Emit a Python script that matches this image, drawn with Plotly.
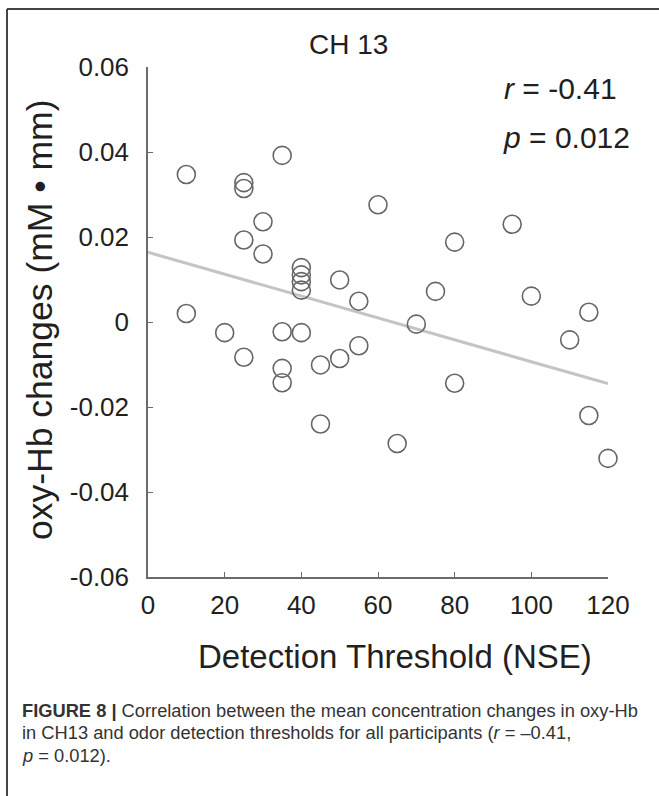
import plotly.graph_objects as go

# ---- data ----
threshold = [10, 10, 20, 25, 25, 25, 25, 30, 30, 35, 35, 35, 35,
             40, 40, 40, 40, 40, 45, 45, 50, 50, 55, 55, 60, 65, 70,
             75, 80, 80, 95, 100, 110, 115, 115, 120]
oxy_hb = [0.0347, 0.0020, -0.0025, 0.0328, 0.0314, 0.0193, -0.0083, 0.0236, 0.0160,
          0.0392, -0.0023, -0.0109, -0.0143,
          0.0128, 0.0111, 0.0095, 0.0075, -0.0025, -0.0101, -0.0240, 0.0099, -0.0086,
          0.0049, -0.0056, 0.0276, -0.0286, -0.0005,
          0.0072, 0.0188, -0.0144, 0.0230, 0.0061, -0.0042, 0.0023, -0.0220, -0.0321]
fit_x = [0, 120]
fit_y = [0.0164, -0.0145]
x_ticks = [0, 20, 40, 60, 80, 100, 120]
y_ticks = [-0.06, -0.04, -0.02, 0, 0.02, 0.04, 0.06]
y_tick_labels = ["-0.06", "-0.04", "-0.02", "0", "0.02", "0.04", "0.06"]

W, H = 659, 796
FONT = "Liberation Sans, Arial, sans-serif"
AX = "#6b6b6b"
TXT = "#231f20"

def px(x):
    return x / W

def py(y):
    return 1 - y / H

fig = go.Figure()
fig.add_trace(go.Scatter(x=fit_x, y=fit_y, mode="lines",
                         line=dict(color="#c4c4c4", width=3), hoverinfo="skip"))
fig.add_trace(go.Scatter(x=threshold, y=oxy_hb, mode="markers", cliponaxis=False,
                         marker=dict(symbol="circle-open", size=18, color="#666666",
                                     line=dict(width=1.6))))

axis_common = dict(showline=True, linecolor=AX, linewidth=1.5, ticks="inside",
                   ticklen=5, tickcolor=AX, tickwidth=1.2, showgrid=False,
                   zeroline=False, mirror=False,
                   tickfont=dict(family=FONT, size=26, color=TXT))

fig.update_layout(
    width=W, height=H, margin=dict(l=0, r=0, t=0, b=0, autoexpand=False),
    paper_bgcolor="white", plot_bgcolor="white", showlegend=False,
    xaxis=dict(range=[0, 120], tickvals=x_ticks, domain=[px(148), px(608)],
               ticklabelstandoff=4, automargin=False, **axis_common),
    yaxis=dict(range=[-0.06, 0.06], tickvals=y_ticks, ticktext=y_tick_labels,
               domain=[py(577), py(67)], ticklabelstandoff=12, automargin=False,
               **axis_common),
)

def note(text, x, y, size, xa="center", ya="middle", angle=0, color=TXT):
    return dict(text=text, x=px(x), y=py(y), xref="paper", yref="paper",
                xanchor=xa, yanchor=ya, textangle=angle, showarrow=False,
                font=dict(family=FONT, size=size, color=color))

ann = [
    note("CH 13", 348, 45, 28),
    note("<i>r</i> = -0.41", 502, 88, 30, xa="left"),
    note("<i>p</i> = 0.012", 501, 137, 30, xa="left"),
    note("oxy-Hb changes (mM • mm)", 40, 320, 35.5, angle=-90),
    note("Detection Threshold (NSE)", 395, 656, 33),
]

cap_lines = [
    "<b>FIGURE 8 |</b> Correlation between the mean concentration changes in oxy-Hb",
    "in CH13 and odor detection thresholds for all participants (<i>r</i> = –0.41,",
    "<i>p</i> = 0.012).",
]
for i, line in enumerate(cap_lines):
    ann.append(note(line, 20, 710 + 22.5 * i, 18.3, xa="left", color="#333333"))
fig.update_layout(annotations=ann)

# frame lines (top and left)
fig.add_shape(type="line", xref="paper", yref="paper", x0=px(7), x1=1, y0=py(9), y1=py(9),
              line=dict(color="#444444", width=2), layer="above")
fig.add_shape(type="line", xref="paper", yref="paper", x0=px(7), x1=px(7), y0=py(9), y1=0,
              line=dict(color="#444444", width=2), layer="above")

fig.write_html("out.html",
               post_script="document.body.style.margin='0';")
